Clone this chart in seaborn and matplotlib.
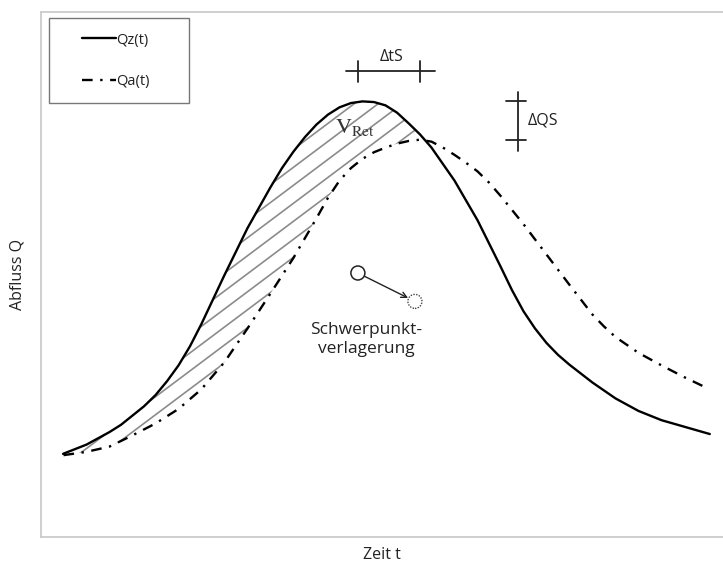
import numpy as np
import pandas as pd
import matplotlib
matplotlib.use("Agg")
import matplotlib.pyplot as plt
import seaborn as sns
from matplotlib.lines import Line2D
from matplotlib.legend_handler import HandlerLine2D
from matplotlib.patches import Ellipse

# ---------------- data ----------------
qz_t = [0.49, 1.0, 1.5, 1.75, 2.0, 2.25, 2.5, 2.75, 3.0, 3.25, 3.5, 3.75, 4.0,
        4.5, 5.0, 5.25, 5.5, 5.75, 6.0, 6.25, 6.5, 6.75, 7.0, 7.25, 7.5, 7.75,
        8.0, 8.25, 8.5, 9.0, 9.5, 10.0, 10.25, 10.5, 10.75, 11.0, 11.25, 11.5,
        12.0, 12.5, 13.0, 13.5, 14.0, 14.55]
qz_q = [1.26, 1.40, 1.59, 1.70, 1.84, 1.98, 2.15, 2.36, 2.60, 2.89, 3.23, 3.60,
        3.97, 4.68, 5.30, 5.59, 5.84, 6.06, 6.25, 6.40, 6.51, 6.575, 6.60, 6.59,
        6.54, 6.43, 6.27, 6.10, 5.90, 5.40, 4.80, 4.10, 3.74, 3.42, 3.16, 2.94,
        2.76, 2.61, 2.34, 2.10, 1.91, 1.77, 1.67, 1.56]

qa_t = [0.5, 1.0, 1.5, 2.0, 2.5, 3.0, 3.5, 4.0, 4.5, 5.0, 5.5, 6.0, 6.25, 6.5,
        6.75, 7.0, 7.25, 7.5, 7.75, 8.0, 8.25, 8.5, 8.75, 9.0, 9.25, 9.5, 9.75,
        10.0, 10.5, 11.0, 11.5, 12.0, 12.25, 12.5, 13.0, 13.5, 14.0, 14.45]
qa_q = [1.24, 1.29, 1.37, 1.54, 1.72, 1.94, 2.24, 2.65, 3.16, 3.69, 4.23, 4.83,
        5.14, 5.40, 5.59, 5.73, 5.83, 5.90, 5.96, 6.00, 6.02, 5.99, 5.90, 5.79,
        5.67, 5.54, 5.37, 5.17, 4.74, 4.28, 3.82, 3.37, 3.19, 3.03, 2.79, 2.60,
        2.42, 2.27]

series_labels = ["Qz(t)", "Qa(t)"]
x_ticks = list(range(1, 15))
y_ticks = list(range(1, 8))

# ---------------- figure ----------------
sns.set_theme(style="white")
plt.rcParams["font.family"] = ["Open Sans", "DejaVu Sans"]

W, H = 723, 566
fig = plt.figure(figsize=(W / 100, H / 100), dpi=100)
ax = fig.add_axes([40.5 / W, (H - 537) / H, 1 - 40.5 / W, (537 - 12) / H])

df_z = pd.DataFrame({"t": qz_t, "Q": qz_q})
df_a = pd.DataFrame({"t": qa_t, "Q": qa_q})

sns.lineplot(data=df_z, x="t", y="Q", ax=ax, color="black", lw=1.7,
             label=series_labels[0], sort=False)
sns.lineplot(data=df_a, x="t", y="Q", ax=ax, color="black", lw=1.7,
             label=series_labels[1], sort=False, linestyle=(0, (4.5, 3.2, 1.0, 3.2)))
for ln in ax.get_lines()[:2]:
    ln.set_solid_joinstyle("round")
    ln.set_dash_joinstyle("round")

ax.set_xlim(0, (W - 40.5) / 46)
ax.set_ylim(0, (537 - 12) / 66)

# --------------- retention area (hatched) ---------------
tz = np.array(qz_t)
qz = np.array(qz_q)
qa_on_z = np.interp(tz, qa_t, qa_q)
fill = ax.fill_between(tz, qz, qa_on_z, where=qz >= qa_on_z, interpolate=True,
                       facecolor="none", edgecolor="none")
clip_path = fill.get_paths()[0]
slope = 0.75 * 46 / 66
spacing = 18 / 66
for c in np.arange(-12, 8, spacing):
    xs = np.array([0, 15])
    ln, = ax.plot(xs, slope * xs + c, color="#8c8c8c", lw=1.2, zorder=1)
    ln.set_clip_path(clip_path, ax.transData)

# --------------- annotations ---------------
iz = int(np.argmax(qz_q))
ia = int(np.argmax(qa_q))
tz_pk, qz_pk = qz_t[iz], qz_q[iz]
ta_pk, qa_pk = qa_t[ia], qa_q[ia]

# Delta tS bracket
yb = 7.06
ax.plot([tz_pk - 0.35, ta_pk + 0.33], [yb, yb], color="#222222", lw=1.3)
for tt in (tz_pk - 0.1, ta_pk):
    ax.plot([tt, tt], [yb - 0.17, yb + 0.15], color="#222222", lw=1.3)
ax.text((tz_pk + ta_pk) / 2, yb + 0.15, "ΔtS", ha="center", va="baseline",
        fontsize=11.5, color="#222222")

# Delta QS bracket
xb = 10.38
ax.plot([xb, xb], [qa_pk - 0.17, qz_pk + 0.14], color="#222222", lw=1.3)
for qq in (qz_pk, qa_pk):
    ax.plot([xb - 0.27, xb + 0.18], [qq, qq], color="#222222", lw=1.3)
ax.text(xb + 0.22, (qz_pk + qa_pk) / 2, "ΔQS", ha="left", va="center",
        fontsize=11.5, color="#222222")

# V_Ret label
ax.text(6.4, 6.2, r"$\mathrm{V}_{\mathrm{Ret}}$", ha="left", va="center",
        fontsize=16, color="#333333", math_fontfamily="stix")

# centroid shift
c1 = (6.90, 4.00)
c2 = (8.14, 3.57)
ax.add_patch(Ellipse(c1, 14 / 46, 14 / 66, fill=False, ec="#222222", lw=1.1))
ax.add_patch(Ellipse(c2, 14 / 46, 14 / 66, fill=False, ec="#444444", lw=1.0,
                     linestyle=(0, (1, 1))))
ax.annotate("", xy=c2, xytext=c1,
            arrowprops=dict(arrowstyle="->", color="#222222", lw=1.0,
                            shrinkA=5.5, shrinkB=5.5, mutation_scale=10))
ax.text(7.08, 2.99, "Schwerpunkt-\nverlagerung", ha="center", va="center",
        fontsize=12.5, color="#222222", linespacing=1.25)

# --------------- axes styling ---------------
ax.set_xticks(x_ticks)
ax.set_yticks(y_ticks)
ax.set_xticklabels([])
ax.set_yticklabels([])
ax.tick_params(axis="both", direction="in", length=4, width=0.8, colors="#c0c0c0")
for side in ("left", "top", "bottom"):
    ax.spines[side].set_color("#cccccc")
    ax.spines[side].set_linewidth(1.3)
ax.spines["right"].set_visible(False)

ax.set_xlabel("Zeit t", fontsize=11.5, color="#222222", labelpad=4)
ax.set_ylabel("Abfluss Q", fontsize=11.5, color="#222222", labelpad=7)

# --------------- legend ---------------
fs = 10.5
fs_px = fs * 100 / 72
handles = ax.get_lines()[:2]
leg = ax.legend(handles=handles, labels=series_labels, loc="upper left",
                bbox_to_anchor=(8.5 / (W - 40.5), 1 - 6 / 525, 140 / (W - 40.5), 0.0),
                mode="expand", fontsize=fs, frameon=True, fancybox=False,
                borderpad=1.0, labelspacing=1.8, handlelength=(18 + 34) / fs_px,
                handletextpad=0.05, borderaxespad=0,
                handler_map={Line2D: HandlerLine2D(xpad=18 / fs_px)})
leg.get_frame().set_edgecolor("#555555")
leg.get_frame().set_linewidth(1.0)
for txt in leg.get_texts():
    txt.set_color("#222222")

fig.savefig("out.png", dpi=100, facecolor="white")
